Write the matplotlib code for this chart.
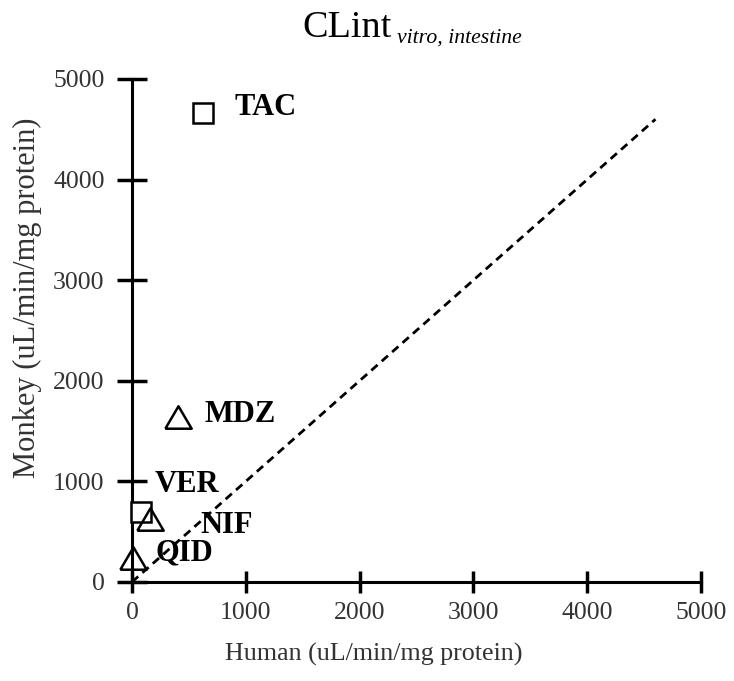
import matplotlib
matplotlib.use("Agg")
import matplotlib.pyplot as plt

plt.rcParams['font.family'] = ['Liberation Serif', 'DejaVu Serif']

drugs = ["TAC", "MDZ", "VER", "NIF", "QID"]
human = [624, 404, 79, 158, 9]
monkey = [4662, 1640, 696, 626, 238]
shapes = ["s", "tri", "s", "tri", "tri"]
unity_end = 4600
ticks = [0, 1000, 2000, 3000, 4000, 5000]

# label offsets in points (from marker centre)
offsets = [(23, 4), (19, 1.5), (10, 20), (36, -5), (16, 4)]

tri = [(-1, -0.85), (1, -0.85), (0, 0.85), (-1, -0.85)]

fig = plt.figure(figsize=(7.34, 6.81), dpi=100)
ax = fig.add_axes([0.1798, 0.1454, 0.7752, 0.7386])

ax.plot([0, unity_end], [0, unity_end], ls=(0, (3, 2)), color="black", lw=2, zorder=2)

for name, hx, my, sh, off in zip(drugs, human, monkey, shapes, offsets):
    if sh == "s":
        ax.plot(hx, my, marker="s", ms=14.5, mfc="white", mec="black", mew=1.8,
                ls="none", zorder=3, clip_on=False)
    else:
        ax.plot(hx, my, marker=tri, ms=19, mfc="none", mec="black", mew=1.8,
                ls="none", zorder=4, clip_on=False)
    ax.annotate(name, (hx, my), xytext=off, textcoords="offset points",
                fontsize=22, fontweight="bold", va="center", ha="left")

ax.set_xlim(0, 5000)
ax.set_ylim(0, 5000)
ax.set_xticks(ticks)
ax.set_yticks(ticks)
for s in ["top", "right"]:
    ax.spines[s].set_visible(False)
ax.spines["left"].set_linewidth(2.2)
ax.spines["bottom"].set_linewidth(2.2)
ax.tick_params(direction="inout", width=2.5, labelsize=18.5, colors="black",
               labelcolor="#333333")
ax.tick_params(axis="x", length=16.5, pad=6)
ax.tick_params(axis="y", length=21.5, pad=9)

fig.text(374 / 734, 1 - 661 / 681, "Human (uL/min/mg protein)", fontsize=18.7,
         color="#333333", ha="center", va="baseline")
fig.text(27.5 / 734, 1 - 298 / 681, "Monkey (uL/min/mg protein)", fontsize=22,
         color="#333333", ha="center", va="center", rotation=90)

fig.text(302 / 734, 1 - 37 / 681, "CLint", fontsize=27.5, ha="left", va="baseline")
fig.text(397 / 734, 1 - 43 / 681, "vitro, intestine", fontsize=15.7, style="italic",
         ha="left", va="baseline")

fig.savefig("out.png", dpi=100)
